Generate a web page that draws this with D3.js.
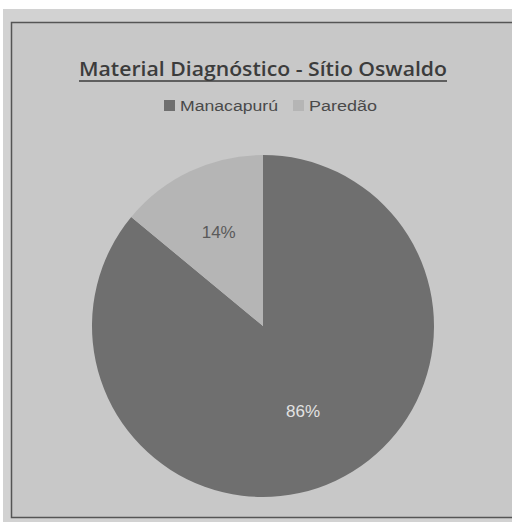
<!DOCTYPE html>
<html>
  <head>
    <meta charset="utf-8">
    <title>Material Diagnóstico - Sítio Oswaldo</title>
    <script src="https://d3js.org/d3.v7.min.js"></script>
    <style>
      body { margin: 0; background: #fff; }
      svg { display: block; }
    </style>
  </head>
  <body>
    <svg id="chart" width="512" height="522"></svg>

    <script>
      // data
      var categories = ["Manacapurú", "Paredão"];
      var values = [86, 14];
      var labels = ["86%", "14%"];

      var sliceColors = ["#6f6f6f", "#b5b5b5"];
      var labelColors = ["#e2e2e2", "#5a5a5a"];
      var labelRadius = [94, 104];

      var svg = d3.select("#chart");

      // scanned page background + chart frame
      svg.append("rect")
        .attr("x", 3).attr("y", 9).attr("width", 509).attr("height", 513)
        .style("fill", "#d2d2d2");
      svg.append("rect")
        .attr("x", 11.5).attr("y", 22.5).attr("width", 510).attr("height", 495)
        .style("fill", "#c8c8c8")
        .style("stroke", "#555")
        .style("stroke-width", 1.5);

      // title
      var title = svg.append("text")
        .attr("x", 79).attr("y", 76)
        .attr("textLength", 368)
        .attr("lengthAdjust", "spacingAndGlyphs")
        .style("font-family", "'Open Sans', sans-serif")
        .style("font-weight", 600)
        .style("font-size", "19px")
        .style("fill", "#3c3c3c")
        .text("Material Diagnóstico - Sítio Oswaldo");

      svg.append("line")
        .attr("x1", 79).attr("x2", 447)
        .attr("y1", 81).attr("y2", 81)
        .style("stroke", "#3c3c3c")
        .style("stroke-width", 1.5);

      // legend
      var legendX = [164, 293];
      var legendW = [98, 68];
      var legend = svg.append("g").selectAll("g")
        .data(categories)
        .enter()
        .append("g")
        .attr("transform", (d, i) => "translate(" + legendX[i] + ",100)");

      legend.append("rect")
        .attr("width", 11).attr("height", 11)
        .style("fill", (d, i) => sliceColors[i]);

      legend.append("text")
        .attr("x", 16).attr("y", 11)
        .attr("textLength", (d, i) => legendW[i])
        .attr("lengthAdjust", "spacingAndGlyphs")
        .style("font-family", "'Liberation Sans', Arial, sans-serif")
        .style("font-size", "15.5px")
        .style("fill", "#4a4a4a")
        .text(d => d);

      // pie
      var radius = 171;
      var pie = d3.pie().sort(null).value(d => d);
      var arc = d3.arc().innerRadius(0).outerRadius(radius);

      var g = svg.append("g")
        .attr("transform", "translate(263,326)");

      var slices = pie(values);

      g.selectAll("path")
        .data(slices)
        .enter()
        .append("path")
        .attr("d", arc)
        .style("fill", (d, i) => sliceColors[i]);

      g.selectAll("text")
        .data(slices)
        .enter()
        .append("text")
        .attr("transform", (d, i) => {
          var c = d3.arc().innerRadius(labelRadius[i]).outerRadius(labelRadius[i]).centroid(d);
          return "translate(" + c + ")";
        })
        .attr("dy", "0.35em")
        .attr("text-anchor", "middle")
        .style("font-family", "'Liberation Sans', Arial, sans-serif")
        .style("font-size", "17px")
        .style("fill", (d, i) => labelColors[i])
        .text((d, i) => labels[i]);
    </script>
  </body>
</html>
